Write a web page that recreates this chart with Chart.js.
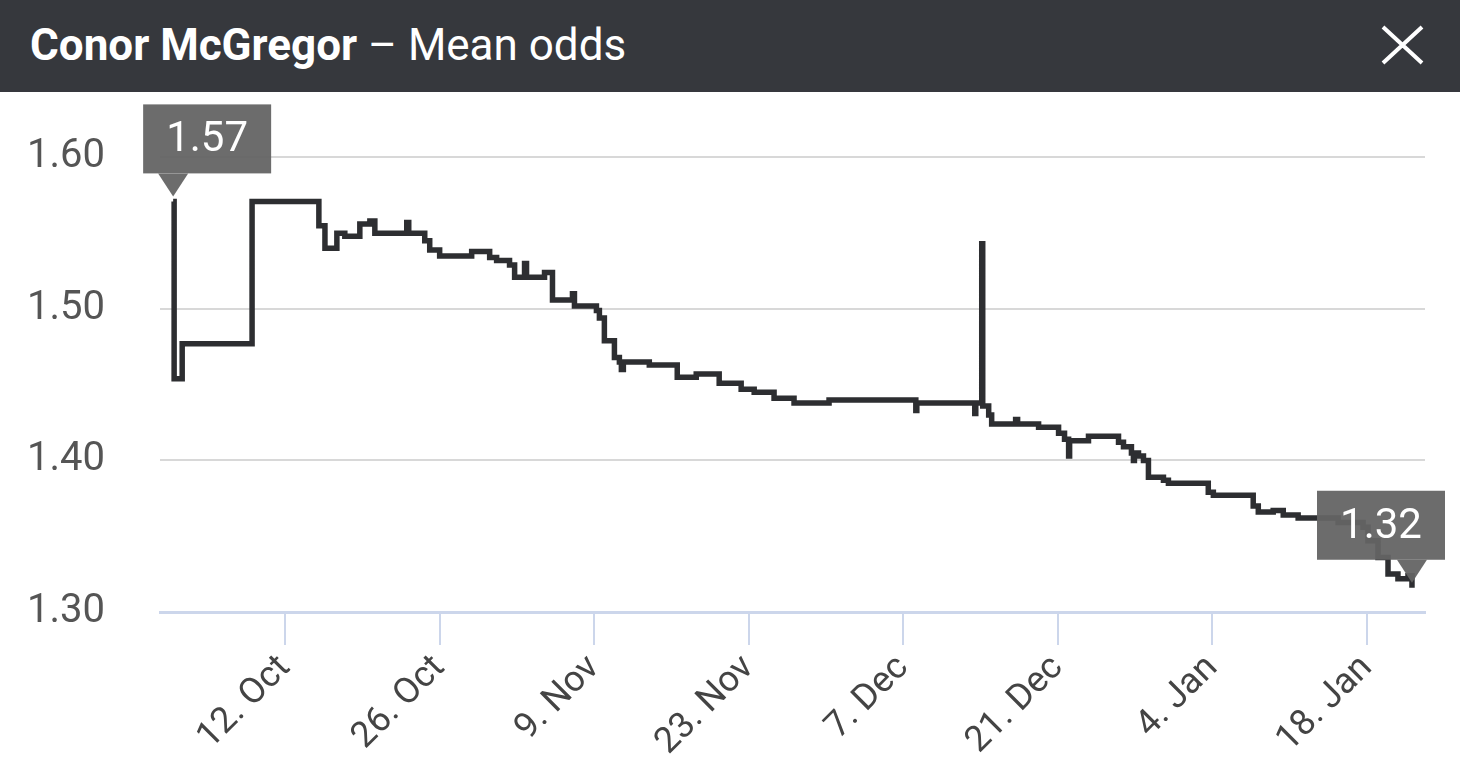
<!DOCTYPE html>
<html>
<head>
<meta charset="utf-8">
<script src="https://cdn.jsdelivr.net/npm/chart.js@4.4.0/dist/chart.umd.min.js"></script>
<style>
  body { margin: 0; background: #fff; width: 1460px; height: 782px; overflow: hidden; font-family: Roboto, sans-serif; }
  #kopf { position: relative; height: 92px; background: #36383d; color: #fff; }
  #titel { position: absolute; left: 30px; top: 0; line-height: 90px; font-size: 44px; white-space: nowrap; }
  #titel b { font-weight: 700; }
  #zu { position: absolute; left: 1380px; top: 24px; }
  #box { position: relative; width: 1460px; height: 690px; }
</style>
</head>
<body>
<div id="kopf">
  <div id="titel"><b>Conor McGregor</b> – Mean odds</div>
  <svg id="zu" width="46" height="44"><path d="M3 3 L42 39 M42 3 L3 39" stroke="#fff" stroke-width="4" fill="none"/></svg>
</div>
<div id="box"><canvas id="quoten" width="1460" height="690"></canvas></div>
<script>
// tage seit 12. Oct
var tage = [-10.13, -10.04, -9.31, -2.98, 3.07, 3.62, 4.70, 5.42, 6.78, 7.69, 8.14, 11.03, 11.21, 12.66, 13.11, 14.01,
  16.91, 18.54, 19.17, 20.34, 20.80, 21.70, 21.88, 23.51, 24.23, 26.04, 26.22, 28.21, 28.48, 28.93, 29.84, 30.29,
  30.47, 30.65, 33.00, 35.53, 37.25, 39.33, 41.32, 42.50, 44.30, 46.11, 49.28, 57.14, 57.23, 62.48, 62.57, 63.11,
  63.20, 63.74, 64.01, 66.18, 66.36, 68.26, 70.07, 70.61, 70.98, 71.07, 72.78, 75.50, 75.95, 76.67, 76.85, 76.94,
  77.31, 77.76, 78.21, 79.57, 80.02, 83.63, 84.09, 87.70, 88.16, 89.51, 90.42, 91.77, 95.39, 97.65, 98.10, 99.00,
  99.91, 100.81, 101.72, 102.08];
var quoten = [1.571, 1.454, 1.477, 1.571, 1.555, 1.540, 1.550, 1.548, 1.556, 1.558, 1.550, 1.557, 1.550, 1.545, 1.539, 1.535,
  1.538, 1.534, 1.532, 1.529, 1.521, 1.530, 1.521, 1.524, 1.506, 1.510, 1.502, 1.499, 1.494, 1.479, 1.468, 1.465,
  1.460, 1.465, 1.463, 1.455, 1.457, 1.451, 1.447, 1.445, 1.441, 1.438, 1.440, 1.433, 1.438, 1.431, 1.438, 1.543,
  1.436, 1.430, 1.424, 1.427, 1.424, 1.422, 1.418, 1.414, 1.403, 1.413, 1.416, 1.412, 1.409, 1.405, 1.400, 1.405,
  1.403, 1.400, 1.389, 1.387, 1.385, 1.379, 1.377, 1.370, 1.366, 1.367, 1.364, 1.362, 1.359, 1.356, 1.347, 1.336,
  1.325, 1.322, 1.324, 1.316];
var yTicks = [1.30, 1.40, 1.50, 1.60];
var xTickTage = [0, 14, 28, 42, 56, 70, 84, 98];
var xTickLabels = ['12. Oct', '26. Oct', '9. Nov', '23. Nov', '7. Dec', '21. Dec', '4. Jan', '18. Jan'];

var punkte = [];
for (var i = 0; i < tage.length; i++) punkte.push({x: tage[i], y: quoten[i]});

// kaesten mit erstem und letztem wert
var fahnen = {
  id: 'fahnen',
  afterDatasetsDraw: function(chart) {
    var ctx = chart.ctx;
    var xs = chart.scales.x, ys = chart.scales.y;
    [0, punkte.length - 1].forEach(function(idx) {
      var px = xs.getPixelForValue(punkte[idx].x);
      var py = ys.getPixelForValue(punkte[idx].y);
      var w = 128, h = 69;
      var left = Math.min(px - 30, chart.width - 15 - w);
      var bottom = py - 28;
      var top = bottom - h;
      ctx.save();
      ctx.fillStyle = 'rgba(100,100,100,0.95)';
      ctx.fillRect(left, top, w, h);
      ctx.beginPath();
      ctx.moveTo(Math.max(left, px - 15), bottom);
      ctx.lineTo(px, py - 5);
      ctx.lineTo(Math.min(left + w, px + 15), bottom);
      ctx.closePath();
      ctx.fill();
      ctx.fillStyle = '#fff';
      ctx.font = '42px Roboto';
      ctx.textAlign = 'center';
      ctx.textBaseline = 'middle';
      ctx.fillText(punkte[idx].y.toFixed(2), left + w / 2, top + h / 2 + 2);
      ctx.restore();
    });
  }
};

var chart = new Chart(document.getElementById('quoten'), {
  type: 'line',
  data: {
    datasets: [{
      data: punkte,
      stepped: true,
      borderColor: '#2d2e31',
      borderWidth: 5.5,
      pointRadius: 0,
      fill: false
    }]
  },
  options: {
    responsive: false,
    animation: false,
    layout: { padding: { left: 0, right: 35, top: 20, bottom: 0 } },
    plugins: { legend: { display: false }, tooltip: { enabled: false } },
    scales: {
      x: {
        type: 'linear',
        min: -11.32,
        max: 103.26,
        afterBuildTicks: function(s) { s.ticks = xTickTage.map(function(v) { return {value: v}; }); },
        afterFit: function(s) { s.height = 170; },
        grid: { drawOnChartArea: false, drawTicks: true, tickLength: 33, color: '#ccd6eb', lineWidth: 2 },
        border: { color: '#ccd6eb', width: 3 },
        ticks: {
          autoSkip: false,
          minRotation: 45,
          maxRotation: 45,
          padding: 2,
          color: '#444',
          font: { family: 'Roboto', size: 36 },
          callback: function(v, i) { return xTickLabels[i]; }
        }
      },
      y: {
        min: 1.30,
        max: 1.63,
        afterBuildTicks: function(s) { s.ticks = yTicks.map(function(v) { return {value: v}; }); },
        afterFit: function(s) { s.width = 160; s.paddingTop = 0; s.paddingBottom = 0; },
        grid: { color: '#d8d8d8', lineWidth: 2, drawTicks: false },
        border: { display: false },
        ticks: {
          padding: 55,
          color: '#555',
          font: { family: 'Roboto', size: 40 },
          callback: function(v) { return v.toFixed(2); }
        }
      }
    }
  },
  plugins: [fahnen]
});
</script>
</body>
</html>
